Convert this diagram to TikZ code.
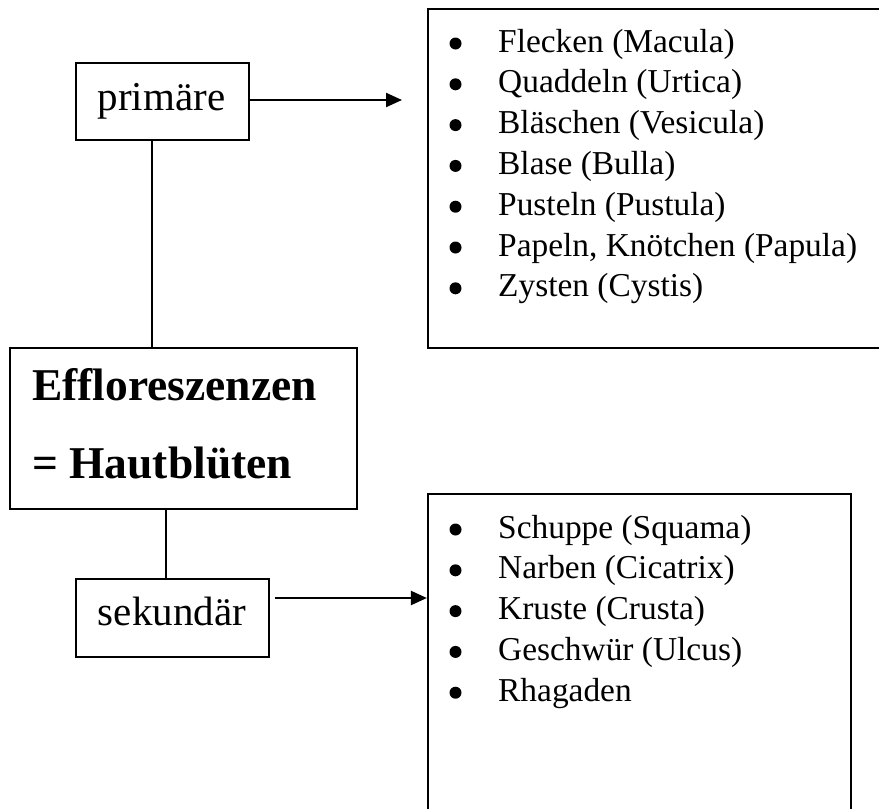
\documentclass[tikz,border=0pt]{standalone}
\usepackage{fontspec}
\setmainfont{Liberation Serif}
\usetikzlibrary{arrows.meta}
\begin{document}
\begin{tikzpicture}[x=1pt,y=-1pt,
  box/.style={draw,line width=2.2pt,rectangle,inner sep=0pt},
  lbl/.style={inner sep=0pt,anchor=base,font=\fontsize{41}{49}\selectfont},
  ttl/.style={inner sep=0pt,anchor=base west,font=\fontsize{45.5}{54}\selectfont\bfseries},
  itm/.style={inner sep=0pt,anchor=base west,font=\fontsize{33.4}{40}\selectfont},
  bul/.style={circle,fill,inner sep=0pt,minimum size=12pt},
  conn/.style={line width=2.2pt},
  arr/.style={line width=2.2pt,-{Triangle[length=16pt,width=14pt]}}]
\useasboundingbox (0,0) rectangle (879,809);
\clip (0,0) rectangle (879,809);
\fill[white] (0,0) rectangle (879,809);
% boxes
\node[box,minimum width=173pt,minimum height=77pt] (prim) at (162.5,101.5) {};
\node[box,minimum width=347pt,minimum height=161pt] (eff) at (183.5,428.5) {};
\node[box,minimum width=193pt,minimum height=78pt] (sek) at (172.5,618) {};
\node[box,minimum width=472pt,minimum height=339pt] (list1) at (664,178.5) {};
\node[box,minimum width=423pt,minimum height=346pt] (list2) at (639.5,667) {};
% labels
\node[lbl] (primt) at (161.5,110) {primäre};
\node[lbl] (sekt) at (172,625) {sekundär};
\node[ttl] (efft1) at (32,400) {Effloreszenzen};
\node[ttl] (efft2) at (32,478) {= Hautblüten};
% list 1
\foreach \t [count=\i] in {Flecken (Macula),Quaddeln (Urtica),Bläschen (Vesicula),Blase (Bulla),Pusteln (Pustula),{Papeln, Knötchen (Papula)},Zysten (Cystis)}{
  \node[bul] (ba\i) at (455.5,{52+40.8*(\i-1)-8.5}) {};
  \node[itm] (ia\i) at (498,{52+40.8*(\i-1)}) {\t};
}
% list 2
\foreach \t [count=\i] in {Schuppe (Squama),Narben (Cicatrix),Kruste (Crusta),Geschwür (Ulcus),Rhagaden}{
  \node[bul] (bb\i) at (455.5,{538+40.8*(\i-1)-8.5}) {};
  \node[itm] (ib\i) at (498,{538+40.8*(\i-1)}) {\t};
}
% connectors
\draw[conn] ([xshift=-10.5pt]prim.south) -- ([xshift=-10.5pt]prim.south |- eff.north);
\draw[conn] ([xshift=-6.5pt]sek.north) -- ([xshift=-6.5pt]sek.north |- eff.south);
\coordinate (a1) at (402,100);
\draw[arr] (prim.east |- a1) -- (a1);
\coordinate (s2) at ([xshift=5pt,yshift=20pt]sek.east);
\draw[arr] (s2) -- (s2 -| list2.west);
\end{tikzpicture}
\end{document}
